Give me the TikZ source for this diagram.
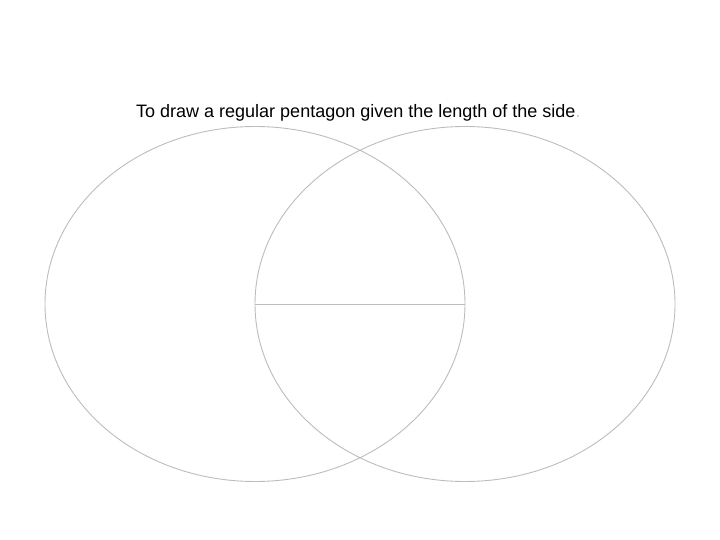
\documentclass[tikz,border=0pt]{standalone}
\usepackage{fontspec}
\setmainfont{Liberation Sans}
\usetikzlibrary{shapes.geometric}
\definecolor{lineg}{RGB}{188,188,188}
\definecolor{dotg}{RGB}{200,200,200}
\tikzset{
  circ/.style={draw=lineg, line width=0.9pt, ellipse, inner sep=0pt,
    minimum width=420pt, minimum height=355pt},
  radius line/.style={draw=lineg, line width=0.9pt},
  title/.style={anchor=base west, inner sep=0pt, font=\fontsize{18}{21.6}\selectfont}
}
\begin{document}
\begin{tikzpicture}[x=1pt,y=-1pt]
\useasboundingbox (0,0) rectangle (720,540);
\node[circ] (L) at (255,304) {};
\node[circ] (R) at (465,304) {};
\coordinate (cl) at (255,304);
\coordinate (cr) at (465,304);
\draw[radius line] (cl) -- (cr);
\node[title] (t) at (136,118) {To draw a regular pentagon given the length of the side\textcolor{dotg}{.}};
\end{tikzpicture}
\end{document}
